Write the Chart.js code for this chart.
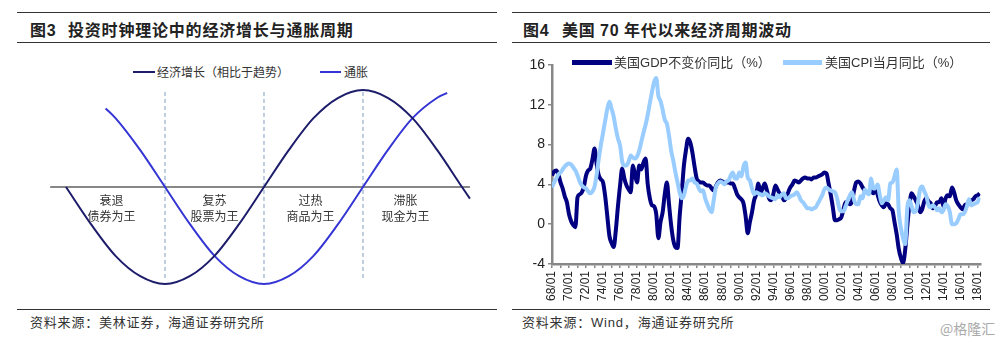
<!DOCTYPE html>
<html>
<head>
<meta charset="utf-8">
<script src="https://cdn.jsdelivr.net/npm/chart.js@4.4.1/dist/chart.umd.min.js"></script>
<style>
  html, body { margin: 0; padding: 0; background: #fff; }
  body { width: 1000px; height: 343px; position: relative; overflow: hidden;
         font-family: "Noto Sans CJK SC", "Liberation Sans", sans-serif; color: #222; }
  .rule { position: absolute; height: 0; border-top: 1.5px solid #333; }
  .title { position: absolute; top: 19px; font-size: 16px; font-weight: bold; line-height: 20px;
           white-space: nowrap; letter-spacing: 0.8px; }
  .num { font-family: "Liberation Sans", Arial, sans-serif; }
  .note { position: absolute; top: 313px; font-size: 13px; line-height: 18px; color: #333;
          white-space: nowrap; letter-spacing: 0.8px; }
  .leg { position: absolute; font-size: 12px; line-height: 16px; white-space: nowrap; color: #333; }
  .sw { position: absolute; }
  canvas { position: absolute; }
</style>
</head>
<body>
  <!-- 左图：投资时钟 -->
  <div class="rule" style="left:17px;top:12px;width:480px"></div>
  <div class="rule" style="left:17px;top:42px;width:480px"></div>
  <div class="title" style="left:30px">图<span class="num">3</span></div>
  <div class="title" style="left:68px">投资时钟理论中的经济增长与通胀周期</div>
  <div class="sw" style="left:133px;top:71px;width:22px;height:2px;background:#1c1c6b"></div>
  <div class="leg" style="left:157px;top:64px">经济增长（相比于趋势）</div>
  <div class="sw" style="left:320px;top:71px;width:21px;height:2px;background:#3535d5"></div>
  <div class="leg" style="left:344px;top:64px">通胀</div>
  <canvas id="chartClock" width="470" height="220" style="left:20px;top:80px"></canvas>
  <div class="rule" style="left:17px;top:309px;width:480px"></div>
  <div class="note" style="left:30px">资料来源：美林证券，海通证券研究所</div>

  <!-- 右图：美国经济周期 -->
  <div class="rule" style="left:512px;top:12px;width:478px"></div>
  <div class="rule" style="left:512px;top:42px;width:478px"></div>
  <div class="title" style="left:523px">图<span class="num">4</span></div>
  <div class="title" style="left:562px">美国 <span class="num">70</span> 年代以来经济周期波动</div>
  <canvas id="chartUS" width="490" height="256" style="left:505px;top:50px"></canvas>
  <div class="sw" style="left:572px;top:60px;width:40px;height:5px;background:#000080"></div>
  <div class="leg" style="left:614px;top:54px;font-size:13px">美国<span class="num">GDP</span>不变价同比（<span class="num">%</span>）</div>
  <div class="sw" style="left:783px;top:60px;width:39px;height:5px;background:#99ccff"></div>
  <div class="leg" style="left:825px;top:54px;font-size:13px">美国<span class="num">CPI</span>当月同比（<span class="num">%</span>）</div>
  <div class="rule" style="left:512px;top:309px;width:478px"></div>
  <div class="note" style="left:522px">资料来源：<span class="num">Wind</span>，海通证券研究所</div>
  <div class="note" style="left:940px;top:319px;color:#aaa;font-size:14px;letter-spacing:0">@格隆汇</div>

<script>
  // --- 左图数据：以四分之一周期为横轴单位 ---
  const growthX = [0, 0.25, 0.5, 0.75, 1, 1.25, 1.5, 1.75, 2, 2.25, 2.5, 2.75, 3, 3.25, 3.5, 3.75, 4, 4.08];
  const growthY = [0, -0.38, -0.71, -0.92, -1, -0.92, -0.71, -0.38, 0, 0.38, 0.71, 0.92, 1, 0.92, 0.71, 0.38, 0, -0.12];
  const inflationX = [0.4, 0.5, 0.75, 1, 1.25, 1.5, 1.75, 2, 2.25, 2.5, 2.75, 3, 3.25, 3.5, 3.75, 3.85];
  const inflationY = [0.81, 0.71, 0.38, 0, -0.38, -0.71, -0.92, -1, -0.92, -0.71, -0.38, 0, 0.38, 0.71, 0.92, 0.97];
  const axisSpan = [-0.16, 4.08];
  const phaseBounds = [1, 2, 3];
  const phaseBoundTop = 0.98;
  const phaseBoundBottom = -0.96;
  const phaseNames = ['衰退', '复苏', '过热', '滞胀'];
  const phaseAssets = ['债券为王', '股票为王', '商品为王', '现金为王'];
  const phaseLabelX = [0.46, 1.5, 2.47, 3.43];
  const phaseLabelY = [-0.135, -0.3];

  // --- 右图数据：季度，1968Q1 起 ---
  const startYear = 1968;
  const gdpYoY = [
    4.9, 5.3, 5.4, 5.0,     // 1968
    4.2, 3.6, 2.8, 2.2,     // 1969
    1.0, 0.3, -0.1, -0.3,   // 1970
    2.7, 3.0, 3.2, 3.8,     // 1971
    4.9, 5.4, 5.6, 6.5,     // 1972
    7.6, 6.0, 4.9, 4.5,     // 1973
    4.2, 2.8, 0.8, -1.2,    // 1974
    -1.9, -2.3, -0.6, 1.8,  // 1975
    3.9, 5.6, 4.6, 3.9,     // 1976
    3.5, 3.2, 5.9, 5.0,     // 1977
    4.2, 5.9, 5.5, 6.2,     // 1978
    6.6, 4.0, 2.6, 1.9,     // 1979
    1.8, 1.0, -1.4, 0.2,    // 1980
    1.2, 3.0, 4.2, 2.0,     // 1981
    -0.1, -1.6, -2.3, -2.4, // 1982
    0.8, 3.2, 5.9, 7.5,     // 1983
    8.6, 8.2, 7.2, 5.8,     // 1984
    4.6, 4.3, 4.2, 4.2,     // 1985
    4.0, 3.9, 3.9, 3.6,     // 1986
    3.4, 3.8, 4.2, 4.4,     // 1987
    4.3, 4.2, 4.2, 4.2,     // 1988
    4.1, 4.1, 3.6, 3.0,     // 1989
    2.7, 2.5, 2.1, 0.8,     // 1990
    -0.9, 0.2, 1.2, 2.4,    // 1991
    3.0, 4.1, 3.2, 3.6,     // 1992
    4.1, 3.4, 2.6, 2.4,     // 1993
    3.0, 3.9, 3.5, 3.1,     // 1994
    2.9, 2.4, 2.6, 3.2,     // 1995
    3.7, 4.0, 4.4, 4.3,     // 1996
    4.2, 4.4, 4.6, 4.7,     // 1997
    4.6, 4.6, 4.5, 4.7,     // 1998
    4.7, 4.8, 4.9, 5.0,     // 1999
    5.2, 5.1, 4.1, 3.0,     // 2000
    1.7, 0.4, 0.4, 0.5,     // 2001
    0.7, 1.5, 2.2, 2.2,     // 2002
    2.0, 2.3, 3.4, 4.2,     // 2003
    4.3, 4.1, 3.7, 3.4,     // 2004
    3.2, 3.2, 3.4, 3.1,     // 2005
    3.6, 3.0, 2.3, 1.9,     // 2006
    1.7, 2.1, 2.0, 1.6,     // 2007
    1.4, 0.2, -1.0, -2.5,   // 2008
    -3.4, -3.9, -2.6, -0.2, // 2009
    1.9, 3.1, 2.8, 2.4,     // 2010
    1.9, 1.2, 1.5, 2.3,     // 2011
    2.6, 2.3, 2.1, 1.6,     // 2012
    1.8, 2.2, 2.2, 2.6,     // 2013
    1.8, 2.6, 2.9, 2.8,     // 2014
    3.7, 3.2, 2.4, 2.0,     // 2015
    1.7, 1.5, 1.9, 2.0,     // 2016
    2.1, 2.4, 2.5, 2.8,     // 2017
    2.9, 3.1                // 2018
  ];
  const cpiYoY = [
    3.7, 4.2, 4.6, 5.0,     // 1968
    5.2, 5.5, 5.8, 6.0,     // 1969
    6.1, 6.0, 5.7, 5.4,     // 1970
    4.9, 4.3, 3.9, 3.7,     // 1971
    3.6, 3.3, 3.1, 3.3,     // 1972
    3.8, 5.0, 6.6, 8.0,     // 1973
    9.2, 10.4, 11.6, 12.3,  // 1974
    11.6, 10.8, 9.6, 8.6,   // 1975
    7.9, 6.3, 5.9, 5.9,     // 1976
    6.3, 6.9, 6.7, 6.6,     // 1977
    6.8, 7.4, 8.3, 9.2,     // 1978
    10.0, 11.0, 12.2, 13.3, // 1979
    14.3, 14.7, 12.9, 12.4, // 1980
    11.5, 10.5, 10.1, 8.9,  // 1981
    7.4, 6.4, 5.2, 4.2,     // 1982
    3.2, 2.6, 2.9, 3.8,     // 1983
    4.4, 4.4, 4.6, 4.2,     // 1984
    4.1, 3.6, 3.3, 3.4,     // 1985
    2.6, 2.0, 1.5, 1.2,     // 1986
    2.4, 3.7, 4.1, 4.3,     // 1987
    4.2, 4.0, 4.3, 4.4,     // 1988
    4.9, 5.2, 4.6, 4.6,     // 1989
    5.2, 4.8, 5.8, 6.2,     // 1990
    4.7, 4.4, 3.6, 3.0,     // 1991
    3.2, 3.1, 3.0, 2.9,     // 1992
    3.1, 3.0, 2.8, 2.7,     // 1993
    2.6, 2.5, 2.9, 2.7,     // 1994
    3.0, 3.1, 2.6, 2.6,     // 1995
    2.8, 2.9, 3.0, 3.2,     // 1996
    2.9, 2.4, 2.2, 1.9,     // 1997
    1.6, 1.6, 1.5, 1.6,     // 1998
    1.7, 2.1, 2.5, 2.9,     // 1999
    3.5, 3.7, 3.5, 3.4,     // 2000
    3.3, 3.2, 2.6, 1.6,     // 2001
    1.3, 1.3, 1.8, 2.4,     // 2002
    2.9, 3.2, 2.4, 2.0,     // 2003
    2.0, 2.8, 2.6, 3.5,     // 2004
    3.2, 3.0, 4.6, 3.6,     // 2005
    3.6, 4.0, 3.0, 2.1,     // 2006
    2.4, 2.7, 2.4, 4.1,     // 2007
    4.2, 4.8, 5.5, 1.2,     // 2008
    -0.4, -1.4, -2.0, 1.6,  // 2009
    2.4, 1.8, 1.2, 1.3,     // 2010
    2.2, 3.5, 3.8, 3.3,     // 2011
    2.8, 1.9, 1.7, 1.9,     // 2012
    1.7, 1.4, 1.6, 1.2,     // 2013
    1.4, 2.0, 1.8, 1.2,     // 2014
    0.0, 0.0, 0.1, 0.5,     // 2015
    1.0, 1.0, 1.2, 1.8,     // 2016
    2.5, 1.9, 2.0, 2.1,     // 2017
    2.2, 2.7                // 2018
  ];
  const xTickLabels = ['68/01', '70/01', '72/01', '74/01', '76/01', '78/01', '80/01', '82/01', '84/01',
    '86/01', '88/01', '90/01', '92/01', '94/01', '96/01', '98/01', '00/01', '02/01', '04/01',
    '06/01', '08/01', '10/01', '12/01', '14/01', '16/01', '18/01'];
  const yTicks = [-4, 0, 4, 8, 12, 16];

  const toPoints = (xs, ys) => ys.map((v, i) => ({ x: xs[i], y: v }));
  const quarterly = (vals) => vals.map((v, i) => ({ x: startYear + i * 0.25, y: v }));

  // 四个阶段的文字
  const phaseLabels = {
    id: 'phaseLabels',
    afterDatasetsDraw(chart) {
      const { ctx, scales: { x, y } } = chart;
      ctx.save();
      ctx.font = '12px "Noto Sans CJK SC", sans-serif';
      ctx.fillStyle = '#333';
      ctx.textAlign = 'center';
      ctx.textBaseline = 'middle';
      phaseNames.forEach((name, i) => {
        const px = x.getPixelForValue(phaseLabelX[i]);
        ctx.fillText(name, px, y.getPixelForValue(phaseLabelY[0]));
        ctx.fillText(phaseAssets[i], px, y.getPixelForValue(phaseLabelY[1]));
      });
      ctx.restore();
    },
  };

  const boundSets = phaseBounds.map((b) => ({
    data: [{ x: b, y: phaseBoundTop }, { x: b, y: phaseBoundBottom }],
    borderColor: '#7f9cc0',
    borderWidth: 1,
    borderDash: [4, 3],
    pointRadius: 0,
  }));

  new Chart(document.getElementById('chartClock'), {
    type: 'line',
    data: {
      datasets: [
        { label: '经济增长（相比于趋势）', data: toPoints(growthX, growthY), borderColor: '#1c1c6b',
          borderWidth: 2, pointRadius: 0, cubicInterpolationMode: 'monotone' },
        { label: '通胀', data: toPoints(inflationX, inflationY), borderColor: '#3535d5',
          borderWidth: 2, pointRadius: 0, cubicInterpolationMode: 'monotone' },
        { data: [{ x: axisSpan[0], y: 0 }, { x: axisSpan[1], y: 0 }], borderColor: '#111',
          borderWidth: 1.2, pointRadius: 0 },
        ...boundSets,
      ],
    },
    options: {
      responsive: false,
      animation: false,
      layout: { padding: 0 },
      plugins: { legend: { display: false }, tooltip: { enabled: false } },
      scales: {
        x: { type: 'linear', display: false, min: -0.4646, max: 4.2828 },
        y: { display: false, min: -1.1649, max: 1.1031 },
      },
    },
    plugins: [phaseLabels],
  });

  new Chart(document.getElementById('chartUS'), {
    type: 'line',
    data: {
      datasets: [
        { label: '美国GDP不变价同比（%）', data: quarterly(gdpYoY), borderColor: '#000080',
          borderWidth: 4, pointRadius: 0, cubicInterpolationMode: 'monotone', order: 1 },
        { label: '美国CPI当月同比（%）', data: quarterly(cpiYoY), borderColor: '#99ccff',
          borderWidth: 4, pointRadius: 0, cubicInterpolationMode: 'monotone', order: 0 },
      ],
    },
    options: {
      responsive: false,
      animation: false,
      layout: { padding: { top: 15, right: 13, left: 0, bottom: 0 } },
      plugins: { legend: { display: false }, tooltip: { enabled: false } },
      scales: {
        x: {
          type: 'linear',
          min: 1968,
          max: 2018.35,
          afterFit(scale) { scale.height = 42; },
          border: { display: true, color: '#888', width: 2.5 },
          grid: { drawOnChartArea: false, drawTicks: true, tickLength: 4, color: '#888', lineWidth: 1.5 },
          ticks: {
            stepSize: 1,
            includeBounds: false,
            autoSkip: false,
            minRotation: 90,
            maxRotation: 90,
            padding: 3,
            color: '#222',
            font: { family: '"Liberation Sans", Arial, sans-serif', size: 12 },
            callback(value) {
              const k = value - startYear;
              return k % 2 === 0 ? xTickLabels[k / 2] : '';
            },
          },
        },
        y: {
          min: -4,
          max: 16,
          afterFit(scale) { scale.width = 47; },
          afterBuildTicks(scale) { scale.ticks = yTicks.map((v) => ({ value: v })); },
          border: { display: true, color: '#888', width: 2.5 },
          grid: { drawOnChartArea: false, drawTicks: true, tickLength: 4, color: '#888', lineWidth: 1.5 },
          ticks: {
            padding: 3,
            color: '#222',
            font: { family: '"Liberation Sans", Arial, sans-serif', size: 14 },
          },
        },
      },
    },
  });
</script>
</body>
</html>
